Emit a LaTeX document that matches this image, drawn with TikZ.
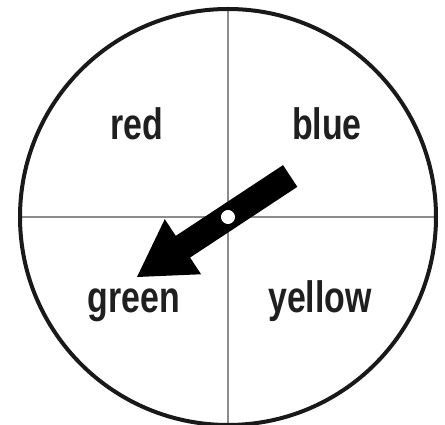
\documentclass[tikz,border=0pt]{standalone}
\usepackage{fontspec}
\setmainfont{Liberation Sans}
\newfontfamily\lblfont[FakeStretch=0.77]{Liberation Sans}
\begin{document}
\begin{tikzpicture}[x=1pt,y=1pt,
  rim/.style={line width=4pt,black!90},
  divider/.style={line width=2pt,black!45},
  lbl/.style={font=\lblfont\bfseries\fontsize{44}{44}\selectfont,anchor=base,inner sep=0pt,text=black!88},
  pointer/.style={fill=black,draw=none}]
\useasboundingbox (0,0) rectangle (445,425);
\coordinate (C) at (228,208);
\node[circle,minimum size=416pt,inner sep=0pt] (wheel) at (C) {};
\draw[divider] (wheel.north) -- (wheel.south);
\draw[divider] (wheel.west) -- (wheel.east);
\draw[rim] (C) circle[radius=208];
\node[lbl] (red) at (137,285) {red};
\node[lbl] (blue) at (327,285) {blue};
\node[lbl] (green) at (134,112) {green};
\node[lbl] (yellow) at (320,112) {yellow};
\begin{scope}[shift={(C)},rotate=213.4]
  \fill[pointer] (-74.5,-13) -- (54,-13) -- (54,-33) -- (109,0) -- (54,33) -- (54,13) -- (-74.5,13) -- cycle;
  \fill[white] (0,0) circle[radius=7];
\end{scope}
\end{tikzpicture}
\end{document}
